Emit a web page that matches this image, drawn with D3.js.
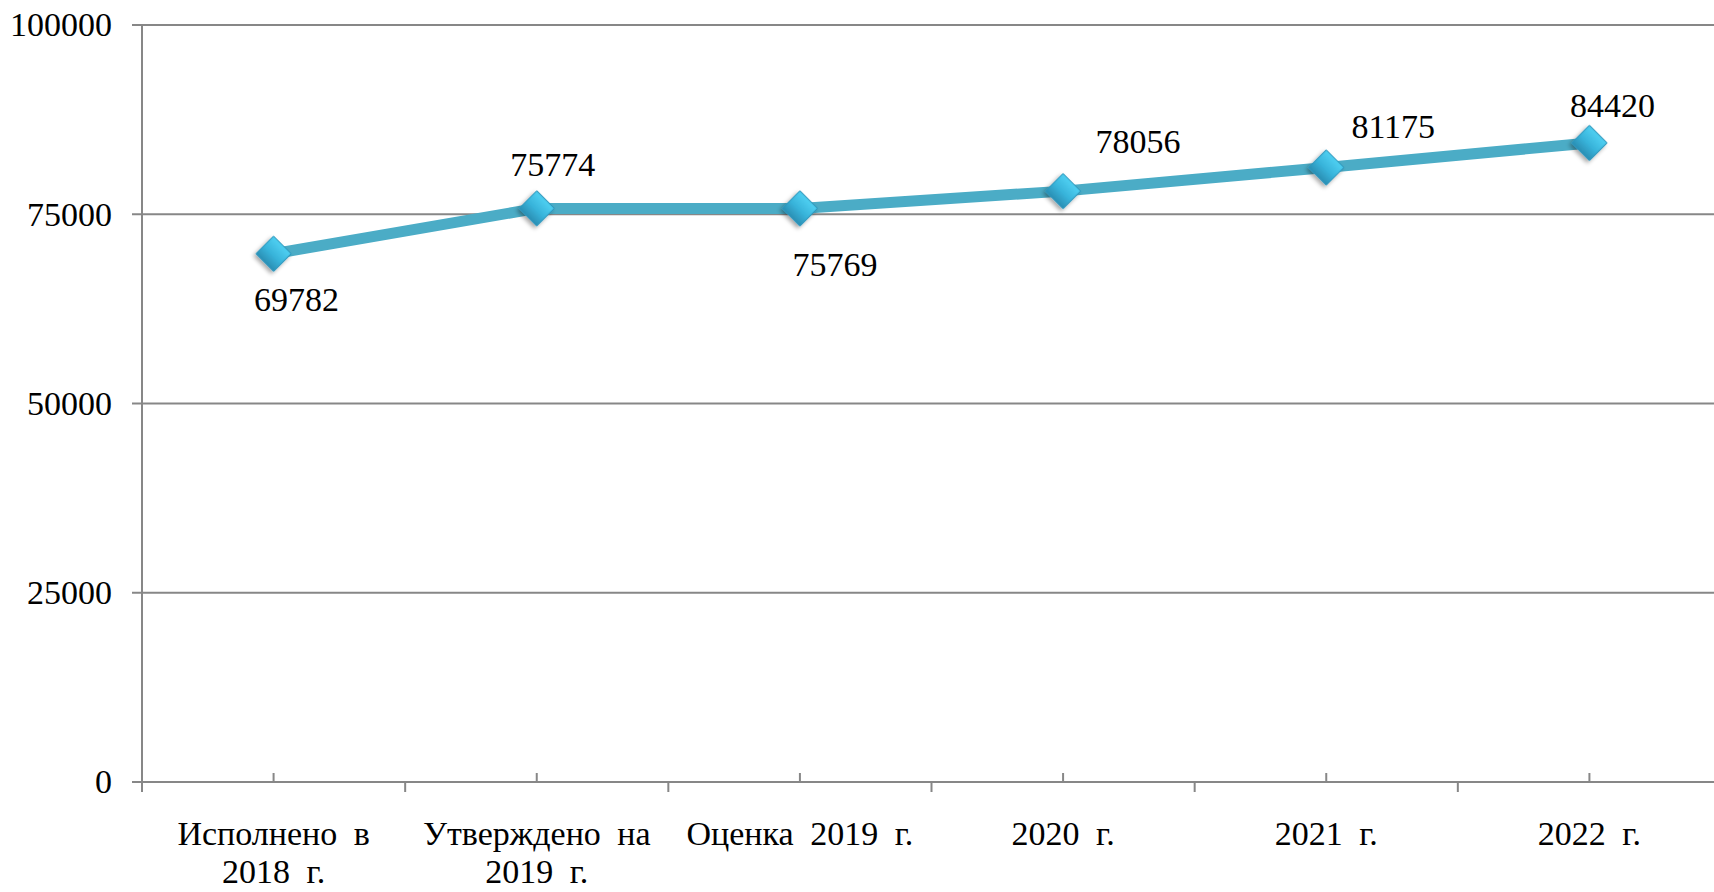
<html><head>
<meta charset="utf-8">
<script src="https://d3js.org/d3.v7.min.js"></script>
<style>
  body { margin: 0; background: #fff; }
  text { font-family: "Liberation Serif", "Times New Roman", serif; fill: #000; }
  .grid line { stroke: #878787; stroke-width: 2; }
</style>
</head>
<body>
<svg id="chart" width="1714" height="892"></svg>
<script>
// data
let categories = ["Исполнено в 2018 г.", "Утверждено на 2019 г.", "Оценка 2019 г.", "2020 г.", "2021 г.", "2022 г."];
let catLines = [["Исполнено в", "2018 г."], ["Утверждено на", "2019 г."], ["Оценка 2019 г."], ["2020 г."], ["2021 г."], ["2022 г."]];
let values = [69782, 75774, 75769, 78056, 81175, 84420];
let yTicks = [0, 25000, 50000, 75000, 100000];

// where each value label sits relative to its point (layout only)
let labelDx = [23, 16, 35, 75, 67, 23];
let labelDy = [57, -32, 68, -38, -30, -26];

let svg = d3.select("#chart");
let plotLeft = 142, plotRight = 1721, plotTop = 25, plotBottom = 782;

let xScale = d3.scaleBand().domain(categories).range([plotLeft, plotRight]);
let yScale = d3.scaleLinear().domain([0, 100000]).range([plotBottom, plotTop]);
let cx = function(d, i) { return xScale(categories[i]) + xScale.bandwidth() / 2; };

let defs = svg.append("defs");
let grad = defs.append("linearGradient").attr("id", "dia").attr("x1", 0).attr("y1", 0).attr("x2", 0).attr("y2", 1);
grad.append("stop").attr("offset", "0%").attr("stop-color", "#4fd0f2");
grad.append("stop").attr("offset", "55%").attr("stop-color", "#38b3da");
grad.append("stop").attr("offset", "100%").attr("stop-color", "#2a8fb4");
let shadow = defs.append("filter").attr("id", "shadow").attr("x", "-50%").attr("y", "-50%").attr("width", "200%").attr("height", "200%");
shadow.append("feDropShadow").attr("dx", 0).attr("dy", 3).attr("stdDeviation", 2).attr("flood-opacity", 0.35);

// gridlines (0 line is the x axis)
svg.append("g").attr("class", "grid")
  .selectAll("line").data(yTicks).enter().append("line")
  .attr("x1", plotLeft - 10).attr("x2", plotRight)
  .attr("y1", d => yScale(d)).attr("y2", d => yScale(d));

// y axis
let yAxis = d3.axisLeft(yScale).tickValues(yTicks).tickFormat(d3.format("d")).tickSize(10).tickPadding(20);
let yg = svg.append("g").attr("transform", "translate(" + plotLeft + ",0)").call(yAxis);
yg.select(".domain").remove();
yg.selectAll(".tick line").remove();
yg.selectAll("text").style("font-size", "34px").style("font-family", "Liberation Serif").attr("fill", "#000");
svg.append("line").attr("x1", plotLeft).attr("x2", plotLeft).attr("y1", plotTop).attr("y2", plotBottom + 10)
  .attr("stroke", "#878787").attr("stroke-width", 2);

// x axis ticks: boundaries go down, centres go up
let xg = svg.append("g");
xg.selectAll("line.b").data(d3.range(categories.length + 1)).enter().append("line")
  .attr("x1", i => plotLeft + i * xScale.step()).attr("x2", i => plotLeft + i * xScale.step())
  .attr("y1", plotBottom).attr("y2", plotBottom + 10)
  .attr("stroke", "#878787").attr("stroke-width", 2);
xg.selectAll("line.c").data(values).enter().append("line")
  .attr("x1", cx).attr("x2", cx)
  .attr("y1", plotBottom).attr("y2", plotBottom - 9)
  .attr("stroke", "#878787").attr("stroke-width", 2);

// category labels
let catText = svg.append("g").selectAll("text").data(catLines).enter().append("text")
  .attr("text-anchor", "middle")
  .style("font-size", "34px")
  .style("word-spacing", "8px");
catText.each(function(lines, i) {
  let t = d3.select(this);
  lines.forEach(function(line, j) {
    t.append("tspan").attr("x", cx(null, i)).attr("y", plotBottom + 63 + j * 38).text(line);
  });
});

// line
let line = d3.line().x(cx).y(d => yScale(d));
svg.append("path").datum(values)
  .attr("d", line)
  .attr("fill", "none")
  .attr("stroke", "#4BACC6")
  .attr("stroke-width", 11)
  .attr("stroke-linejoin", "round");

// diamond markers
let diamond = d3.symbol().type(d3.symbolSquare).size(2 * 17.5 * 17.5);
svg.append("g").selectAll("path").data(values).enter().append("path")
  .attr("d", diamond)
  .attr("transform", (d, i) => "translate(" + cx(d, i) + "," + yScale(d) + ") rotate(45)")
  .attr("fill", "url(#dia)")
  .attr("stroke", "#2b97bd")
  .attr("stroke-width", 1)
  .attr("filter", "url(#shadow)");

// value labels
svg.append("g").selectAll("text").data(values).enter().append("text")
  .attr("x", (d, i) => cx(d, i) + labelDx[i])
  .attr("y", (d, i) => yScale(d) + labelDy[i])
  .attr("text-anchor", "middle")
  .style("font-size", "34px")
  .text(d => d);
</script>
</body>
</html>
